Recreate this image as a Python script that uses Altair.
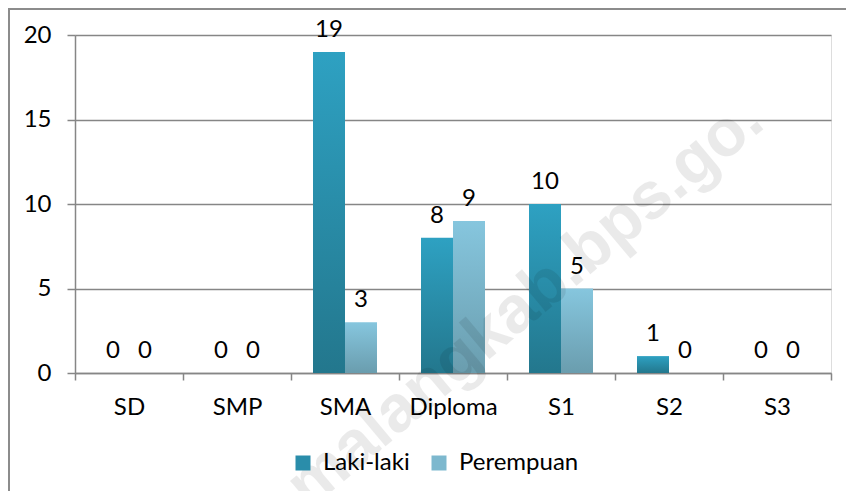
import altair as alt
import pandas as pd

categories = ["SD", "SMP", "SMA", "Diploma", "S1", "S2", "S3"]
laki = [0, 0, 19, 8, 10, 1, 0]
perempuan = [0, 0, 3, 9, 5, 0, 0]
series = ["Laki-laki", "Perempuan"]
y_ticks = [0, 5, 10, 15, 20]
watermark = ["malangkab.bps.go."]

rows = []
for c, a, b in zip(categories, laki, perempuan):
    rows.append({"Pendidikan": c, "Jenis": series[0], "Jumlah": a})
    rows.append({"Pendidikan": c, "Jenis": series[1], "Jumlah": b})
df = pd.DataFrame(rows)

FONT = "Lato"
GRAY = "#868686"

grad_laki = alt.Gradient(
    gradient="linear", x1=0, y1=0, x2=0, y2=1,
    stops=[alt.GradientStop(offset=0, color="#2EA1C2"),
           alt.GradientStop(offset=1, color="#23778D")],
)
grad_per = alt.Gradient(
    gradient="linear", x1=0, y1=0, x2=0, y2=1,
    stops=[alt.GradientStop(offset=0, color="#86C6DE"),
           alt.GradientStop(offset=1, color="#6A9DAE")],
)

x_enc = alt.X(
    "Pendidikan:N", sort=categories, title=None,
    scale=alt.Scale(paddingInner=0, paddingOuter=0),
    axis=alt.Axis(labelAngle=0, labelFontSize=24, labelFont=FONT, labelColor="black",
                  labelPadding=15, tickBand="extent", tickSize=7, tickColor=GRAY,
                  tickWidth=1.5, domainColor=GRAY, domainWidth=1.5, grid=False),
)
xo_enc = alt.XOffset("Jenis:N", scale=alt.Scale(domain=series, paddingInner=0,
                                                paddingOuter=0.6875))
y_enc = alt.Y(
    "Jumlah:Q", title=None, scale=alt.Scale(domain=[0, 20], nice=False),
    axis=alt.Axis(values=y_ticks, labelFontSize=24, labelFont=FONT, labelColor="black",
                  labelPadding=16, tickSize=8, tickColor=GRAY, tickWidth=1.5,
                  domainColor=GRAY, domainWidth=1.5, grid=True, gridColor=GRAY,
                  gridWidth=1.5),
)

frame = alt.Chart(pd.DataFrame({"f": [1]})).mark_rect(
    fill="transparent", stroke="#8C8C8C", strokeWidth=2
).encode(x=alt.value(-66), x2=alt.value(800), y=alt.value(-26), y2=alt.value(520))

bars_l = alt.Chart(df).transform_filter(alt.datum.Jenis == series[0]).mark_bar(
    fill=grad_laki).encode(x=x_enc, xOffset=xo_enc, y=y_enc)
bars_p = alt.Chart(df).transform_filter(alt.datum.Jenis == series[1]).mark_bar(
    fill=grad_per).encode(x=x_enc, xOffset=xo_enc, y=y_enc)

labels = alt.Chart(df).mark_text(
    baseline="alphabetic", dy=-15, fontSize=24, font=FONT, color="black"
).encode(x=x_enc, xOffset=xo_enc, y=y_enc, text="Jumlah:Q")

legend_layer = alt.Chart(df).mark_square(opacity=0).encode(
    x=x_enc, y=y_enc,
    color=alt.Color(
        "Jenis:N",
        scale=alt.Scale(domain=series, range=["#2A8DAA", "#7DB8CE"]),
        legend=alt.Legend(title=None, orient="none", legendX=216, legendY=416,
                          direction="horizontal", symbolType="square", symbolSize=225,
                          symbolOpacity=1, symbolStrokeWidth=0, labelFontSize=24,
                          labelFont=FONT, labelColor="black", labelOffset=8,
                          columnPadding=17),
    ),
)

wm = alt.Chart(pd.DataFrame({"t": watermark})).mark_text(
    angle=320, fontSize=66, fontWeight="bold", font="Liberation Sans",
    color="black", opacity=0.08, align="center", baseline="middle"
).encode(x=alt.value(450), y=alt.value(268), text="t:N")

chart = alt.layer(frame, bars_l, bars_p, labels, legend_layer, wm).properties(
    width=756, height=338,
    autosize=alt.AutoSizeParams(type="none"),
    padding={"left": 67, "top": 27, "right": 15, "bottom": 118},
).configure_view(stroke=None).configure(font=FONT)

chart.save("out.html", embed_options={"renderer": "svg", "actions": False})
